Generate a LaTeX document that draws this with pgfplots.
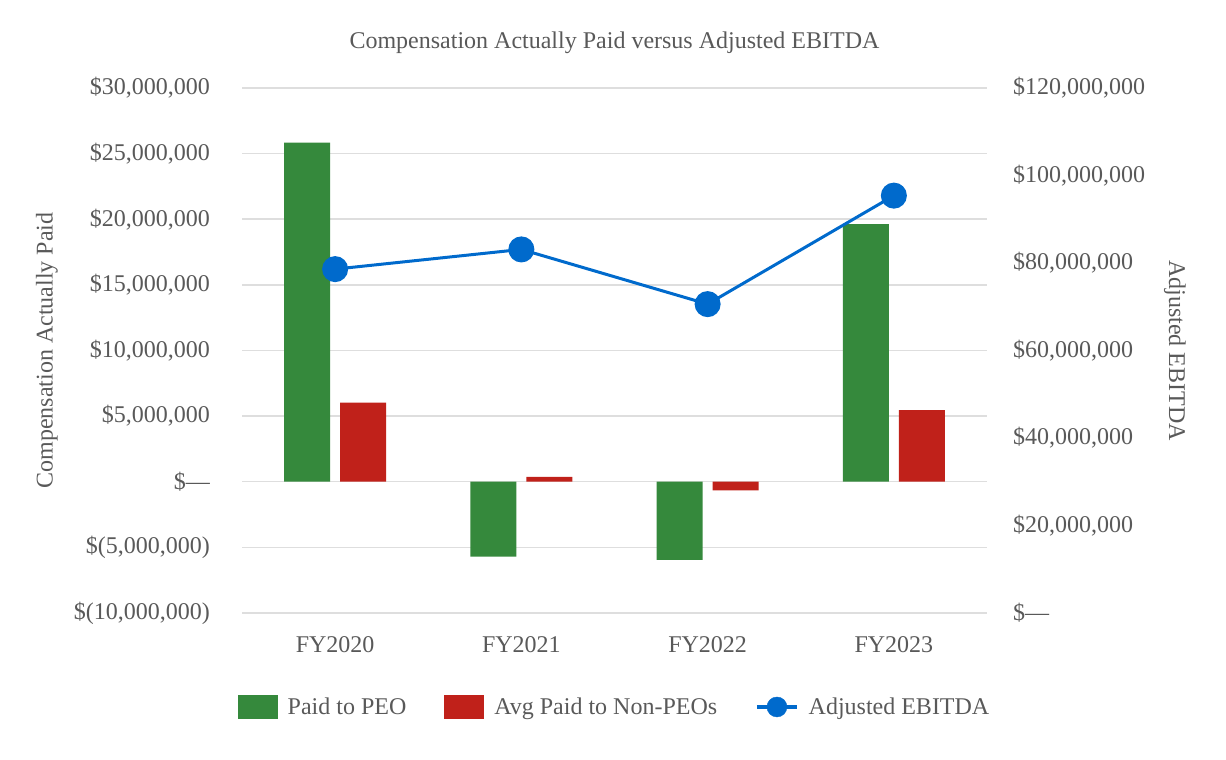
\documentclass[border=0pt]{standalone}
\usepackage{fontspec}
\setmainfont{Liberation Serif}
\usepackage{pgfplots}
\pgfplotsset{compat=1.18}
\definecolor{peo}{RGB}{53,137,60}
\definecolor{npeo}{RGB}{192,33,26}
\definecolor{ebit}{RGB}{0,106,204}
\definecolor{txtgray}{RGB}{89,89,89}
\definecolor{gridgray}{RGB}{222,222,222}
\newcommand{\fs}{\fontsize{24bp}{28bp}\selectfont}
\begin{document}
\begin{tikzpicture}
\useasboundingbox (0,0) rectangle (1226bp,760bp);
\begin{axis}[
  at={(242bp,147bp)}, anchor=south west,
  scale only axis, width=745bp, height=525bp,
  xmin=-0.5, xmax=3.5, ymin=-10, ymax=30,
  xtick={0,1,2,3}, xticklabels={FY2020,FY2021,FY2022,FY2023},
  ytick={-10,-5,0,5,10,15,20,25,30},
  yticklabels={{\$(10,000,000)},{\$(5,000,000)},{\$\textemdash},{\$5,000,000},{\$10,000,000},{\$15,000,000},{\$20,000,000},{\$25,000,000},{\$30,000,000}},
  axis line style={draw=none}, major tick style={draw=none},
  ymajorgrids, grid style={line width=1.5bp, gridgray},
  yticklabel style={font=\fs, text=txtgray, anchor=east, inner sep=0pt, xshift=-32bp},
  xticklabel style={font=\fs, text=txtgray, anchor=north, inner sep=0pt, yshift=-19bp},
  ylabel={Compensation Actually Paid},
  every axis y label/.style={at={(axis description cs:0,0.5)}, xshift=-195bp, rotate=90, anchor=center, font=\fs, text=txtgray},
  title={Compensation Actually Paid versus Adjusted EBITDA},
  every axis title/.style={at={(axis description cs:0.5,1)}, yshift=45bp, anchor=center, font=\fs, text=txtgray},
  ybar, bar width=46bp,
  legend columns=3,
  legend style={at={(axis description cs:0.5,-0.179)}, anchor=center, draw=none, fill=none, font=\fs, text=txtgray,
    /tikz/every even column/.append style={column sep=36bp},
    /tikz/every odd column/.append style={column sep=8bp}},
]
\addplot[fill=peo, draw=none, bar shift=-28bp,
  legend image code/.code={\fill[peo] (0bp,-12bp) rectangle (40bp,12bp);}]
  coordinates {(0,25.83) (1,-5.70) (2,-5.96) (3,19.62)};
\addlegendentry{Paid to PEO}
\addplot[fill=npeo, draw=none, bar shift=28bp,
  legend image code/.code={\fill[npeo] (0bp,-12bp) rectangle (40bp,12bp);}]
  coordinates {(0,6.02) (1,0.38) (2,-0.65) (3,5.45)};
\addlegendentry{Avg Paid to Non-PEOs}
\addlegendimage{legend image code/.code={\draw[ebit, line width=3.5bp] (0bp,0bp) -- (40bp,0bp); \fill[ebit] (20bp,0bp) circle (10bp);}}
\addlegendentry{Adjusted EBITDA}
\end{axis}
\begin{axis}[
  at={(242bp,147bp)}, anchor=south west,
  scale only axis, width=745bp, height=525bp,
  xmin=-0.5, xmax=3.5, ymin=0, ymax=120,
  axis y line*=right, axis x line=none,
  axis line style={draw=none}, major tick style={draw=none},
  ytick={0,20,40,60,80,100,120},
  yticklabels={{\$\textemdash},{\$20,000,000},{\$40,000,000},{\$60,000,000},{\$80,000,000},{\$100,000,000},{\$120,000,000}},
  yticklabel style={font=\fs, text=txtgray, anchor=west, inner sep=0pt, xshift=26bp},
  ylabel={Adjusted EBITDA},
  every axis y label/.style={at={(axis description cs:1,0.5)}, xshift=188bp, rotate=-90, anchor=center, font=\fs, text=txtgray},
]
\addplot[ebit, line width=3bp, mark=*, mark size=11.5bp, mark options={fill=ebit, draw=none}]
  coordinates {(0,78.6) (1,83.1) (2,70.6) (3,95.4)};
\end{axis}
\end{tikzpicture}
\end{document}
